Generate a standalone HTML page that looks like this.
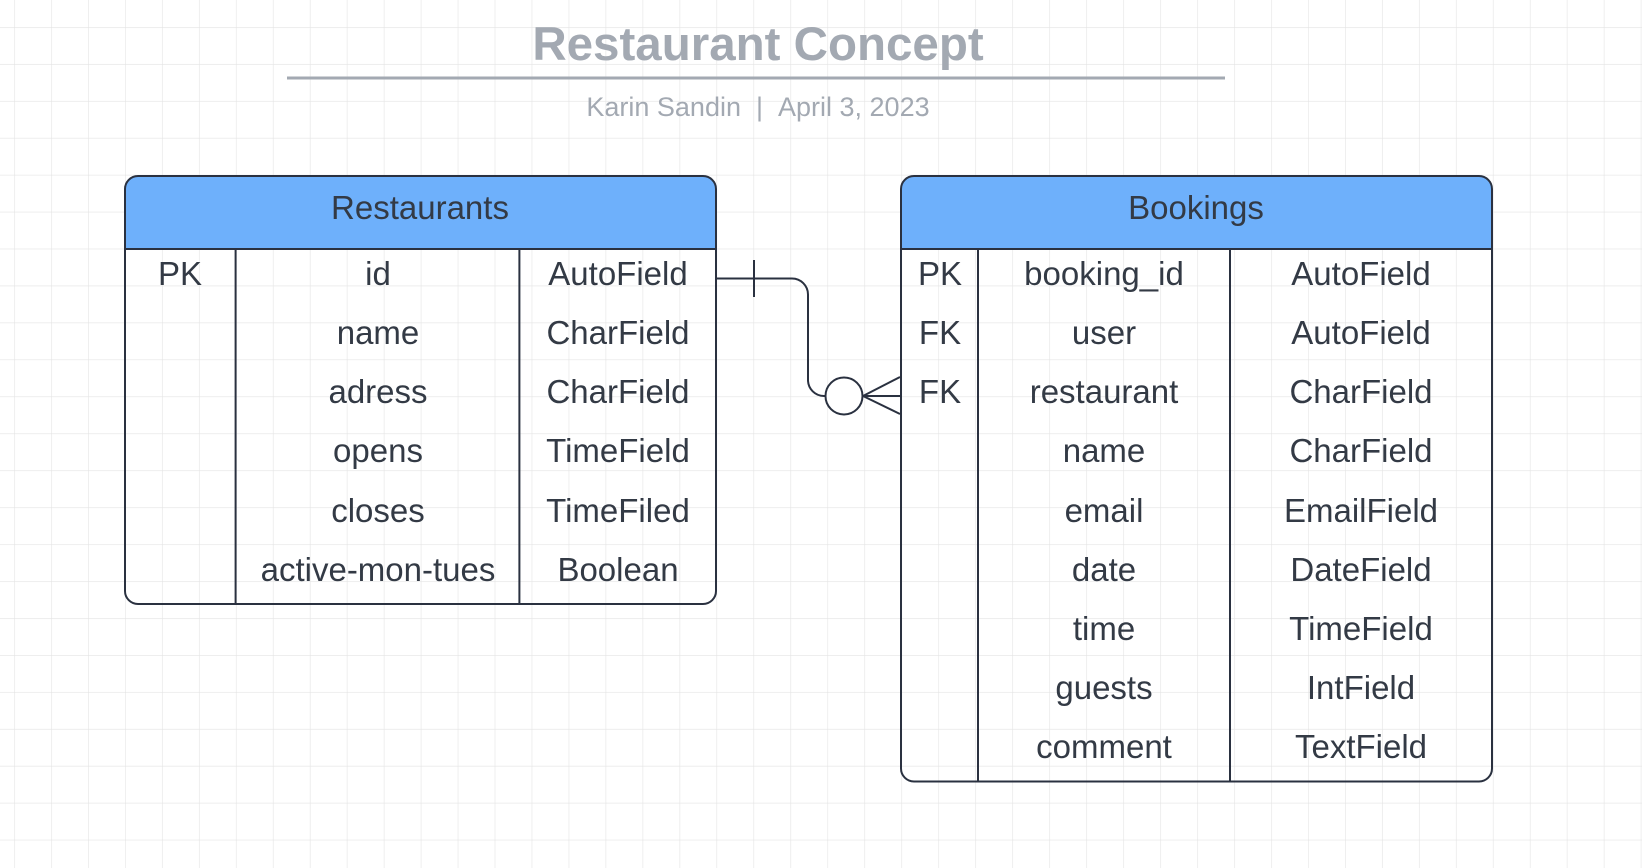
<!DOCTYPE html>
<html><head><meta charset="utf-8"><style>
html,body{margin:0;padding:0;background:#fff;}
svg{display:block;}
text{font-family:"Liberation Sans",sans-serif;white-space:pre;}
</style></head><body>
<svg width="1642" height="868" viewBox="0 0 1642 868" xmlns="http://www.w3.org/2000/svg">
<defs>
<pattern id="g" x="14.1" y="-9.9" width="36.97" height="36.94" patternUnits="userSpaceOnUse">
<path d="M0 0V36.94M0 0H36.97" stroke="#e4e4e4" stroke-width="1.2" fill="none"/>
</pattern>
</defs>
<rect width="1642" height="868" fill="url(#g)"/>
<text x="758" y="60" text-anchor="middle" font-size="47.5" font-weight="bold" fill="#a3a9b2">Restaurant Concept</text>
<rect x="287" y="76.5" width="938" height="3" fill="#a3a9b2"/>
<text x="758" y="116" text-anchor="middle" font-size="27" fill="#a3a9b2">Karin Sandin&#160;&#160;|&#160;&#160;April 3, 2023</text>

<g font-size="33" fill="#333a45" text-anchor="middle">
<path d="M125 249V189a13 13 0 0 1 13-13H703a13 13 0 0 1 13 13V249Z" fill="#6eb0fb"/>
<rect x="125" y="176" width="591" height="428" rx="13" fill="none" stroke="#2a3140" stroke-width="2"/>
<line x1="125" y1="249" x2="716" y2="249" stroke="#2a3140" stroke-width="2"/>
<line x1="235.6" y1="249" x2="235.6" y2="604" stroke="#2a3140" stroke-width="2"/>
<line x1="519.4" y1="249" x2="519.4" y2="604" stroke="#2a3140" stroke-width="2"/>
<text x="420" y="219">Restaurants</text>
<text x="180" y="285">PK</text>
<text x="378" y="285">id</text><text x="618" y="285">AutoField</text>
<text x="378" y="344">name</text><text x="618" y="344">CharField</text>
<text x="378" y="403">adress</text><text x="618" y="403">CharField</text>
<text x="378" y="462">opens</text><text x="618" y="462">TimeField</text>
<text x="378" y="522">closes</text><text x="618" y="522">TimeFiled</text>
<text x="378" y="581">active-mon-tues</text><text x="618" y="581">Boolean</text>

<path d="M901 249V189a13 13 0 0 1 13-13H1479a13 13 0 0 1 13 13V249Z" fill="#6eb0fb"/>
<rect x="901" y="176" width="591" height="605.5" rx="13" fill="none" stroke="#2a3140" stroke-width="2"/>
<line x1="901" y1="249" x2="1492" y2="249" stroke="#2a3140" stroke-width="2"/>
<line x1="978" y1="249" x2="978" y2="781" stroke="#2a3140" stroke-width="2"/>
<line x1="1230" y1="249" x2="1230" y2="781" stroke="#2a3140" stroke-width="2"/>
<text x="1196" y="219">Bookings</text>
<text x="940" y="285">PK</text><text x="940" y="344">FK</text><text x="940" y="403">FK</text>
<text x="1104" y="285">booking_id</text><text x="1361" y="285">AutoField</text>
<text x="1104" y="344">user</text><text x="1361" y="344">AutoField</text>
<text x="1104" y="403">restaurant</text><text x="1361" y="403">CharField</text>
<text x="1104" y="462">name</text><text x="1361" y="462">CharField</text>
<text x="1104" y="522">email</text><text x="1361" y="522">EmailField</text>
<text x="1104" y="581">date</text><text x="1361" y="581">DateField</text>
<text x="1104" y="640">time</text><text x="1361" y="640">TimeField</text>
<text x="1104" y="699">guests</text><text x="1361" y="699">IntField</text>
<text x="1104" y="758">comment</text><text x="1361" y="758">TextField</text>
</g>

<g stroke="#2a3140" stroke-width="2" fill="none">
<path d="M716 278.5H792a16 16 0 0 1 16 16V380a16 16 0 0 0 16 16H825"/>
<line x1="754" y1="260" x2="754" y2="297"/>
<circle cx="844" cy="396" r="18.5" fill="#fff"/>
<line x1="863" y1="396" x2="900" y2="377"/>
<line x1="863" y1="396" x2="900" y2="396"/>
<line x1="863" y1="396" x2="900" y2="414"/>
</g>
</svg>
</body></html>
